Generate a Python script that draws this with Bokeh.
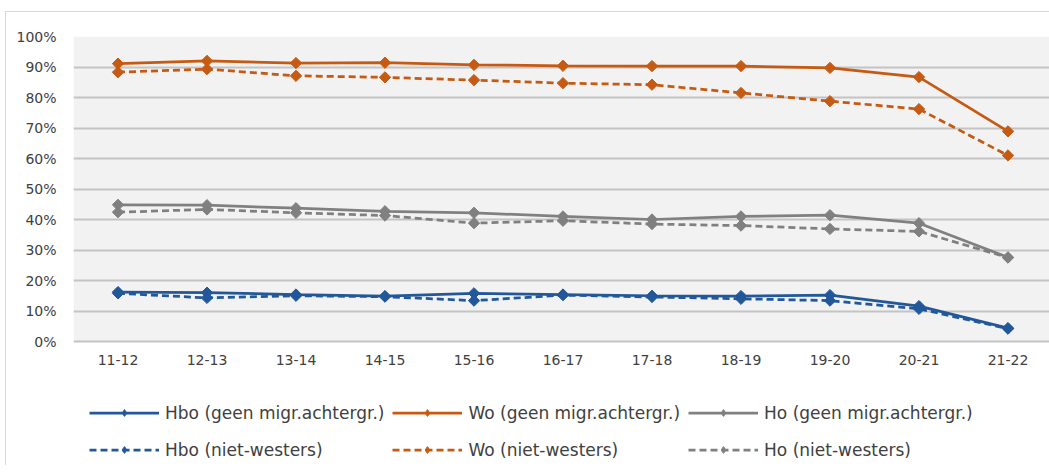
from bokeh.plotting import figure
from bokeh.models import Range1d, FixedTicker, PrintfTickFormatter, Legend, LegendItem, BoxAnnotation
from bokeh.embed import file_html
from bokeh.resources import INLINE

years = ["11-12", "12-13", "13-14", "14-15", "15-16", "16-17", "17-18", "18-19", "19-20", "20-21", "21-22"]
hbo_geen = [16.2, 16.0, 15.4, 14.9, 15.8, 15.4, 15.0, 14.9, 15.2, 11.6, 4.4]
wo_geen = [91.1, 92.0, 91.3, 91.4, 90.7, 90.4, 90.3, 90.3, 89.7, 86.7, 68.9]
ho_geen = [44.8, 44.7, 43.7, 42.7, 42.2, 41.0, 40.0, 41.0, 41.4, 38.8, 27.6]
hbo_nw = [15.8, 14.3, 15.0, 14.7, 13.4, 15.2, 14.6, 14.0, 13.4, 10.7, 4.2]
wo_nw = [88.3, 89.3, 87.1, 86.6, 85.7, 84.7, 84.2, 81.5, 78.8, 76.2, 61.0]
ho_nw = [42.4, 43.3, 42.2, 41.3, 38.8, 39.6, 38.5, 38.0, 36.9, 36.1, 27.5]

labels = ["Hbo (geen migr.achtergr.)", "Wo (geen migr.achtergr.)", "Ho (geen migr.achtergr.)",
          "Hbo (niet-westers)", "Wo (niet-westers)", "Ho (niet-westers)"]
series = [hbo_geen, wo_geen, ho_geen, hbo_nw, wo_nw, ho_nw]
colors = ["#22589A", "#C65A12", "#808080", "#22589A", "#C65A12", "#808080"]
dashes = ["solid", "solid", "solid", "7 4", "7 4", "7 4"]

xs = list(range(len(years)))

PX_PER_PCT = 305 / 100
p = figure(frame_width=976, frame_height=429, output_backend="svg", toolbar_location=None,
           x_range=Range1d(-0.5, -0.5 + 976 / 89), y_range=Range1d(-124 / PX_PER_PCT, 100),
           min_border_left=67, min_border_right=0, min_border_top=24, min_border_bottom=0,
           background_fill_color="white", border_fill_color="white")
p.outline_line_color = None
p.styles = {"border-left": "1px solid #D9D9D9", "border-top": "1px solid #D9D9D9",
            "margin-top": "11px", "margin-left": "5px"}

p.add_layout(BoxAnnotation(bottom=0, top=100, fill_color="#F2F2F2", fill_alpha=1,
                           line_color=None, level="image"))

p.xgrid.grid_line_color = None
p.ygrid.grid_line_color = "#C4C4C4"
p.ygrid.grid_line_width = 2

p.yaxis.ticker = FixedTicker(ticks=list(range(0, 101, 10)))
p.yaxis.formatter = PrintfTickFormatter(format="%d%%")
p.xaxis.ticker = FixedTicker(ticks=xs)
p.xaxis.major_label_overrides = {i: y for i, y in enumerate(years)}
p.xaxis.fixed_location = 0
for ax in (p.xaxis, p.yaxis):
    ax.axis_line_color = None
    ax.major_tick_line_color = None
    ax.minor_tick_line_color = None
    ax.major_tick_out = 0
    ax.major_tick_in = 0
    ax.major_label_text_font = "DejaVu Sans"
    ax.major_label_text_font_size = "14px"
    ax.major_label_text_color = "#404040"
p.yaxis.major_label_standoff = 17
p.xaxis.major_label_standoff = 13

items = []
for lab, ys, c, d in zip(labels, series, colors, dashes):
    r1 = p.line(xs, ys, line_color=c, line_width=2.75, line_dash=d)
    p.scatter(xs, ys, marker="square", angle=0.7854, size=8, fill_color=c, line_color=c)
    # diamond key for the legend (zero size in the plot itself)
    rk = p.scatter(xs, ys, marker="diamond", size=0, fill_color=c, line_color=c)
    items.append(LegendItem(label=lab, renderers=[r1, rk]))

legend = Legend(items=items, location=(16, 1), ncols=3, orientation="horizontal",
                glyph_width=70, glyph_height=17, label_height=29, label_standoff=6, spacing=8,
                padding=0, margin=0, border_line_color=None, background_fill_alpha=0,
                label_text_font="DejaVu Sans", label_text_font_size="17px", label_text_color="#404040")
p.add_layout(legend)

open("out.html", "w").write(file_html(p, INLINE))
